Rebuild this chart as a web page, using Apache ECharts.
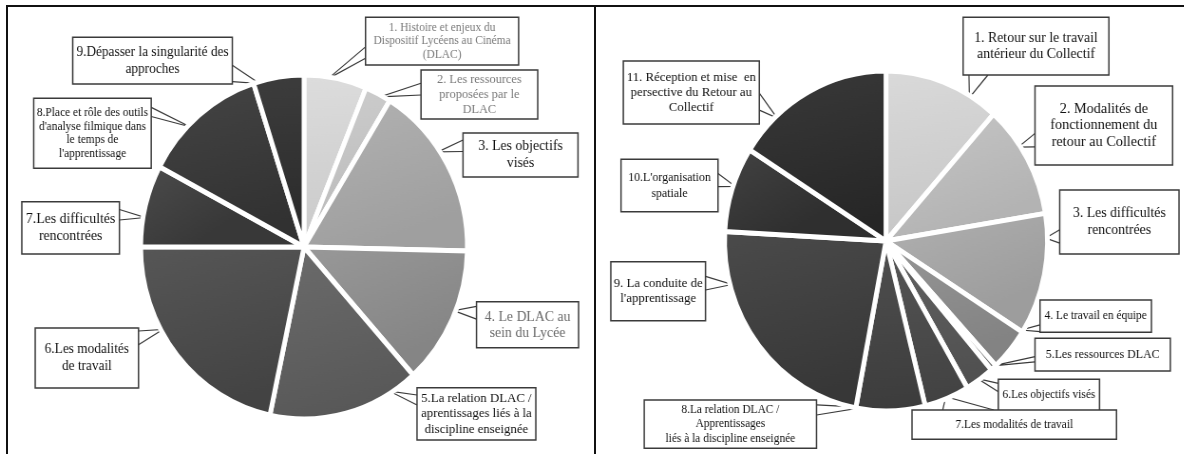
<!DOCTYPE html>
<html><head><meta charset="utf-8">
<script src="https://cdn.jsdelivr.net/npm/echarts@6/dist/echarts.min.js"></script>
<style>
html,body{margin:0;padding:0;background:#fff;}
#wrap{position:relative;width:1184px;height:454px;overflow:hidden;background:#fff;}
#chart{position:absolute;left:0;top:0;height:454px;transform-origin:0 0;}
.ln{position:absolute;background:#111;}
</style></head><body>
<div id="wrap">
<div id="chart"></div>
<div class="ln" style="left:6px;top:5px;width:1178px;height:2px"></div>
<div class="ln" style="left:6px;top:5px;width:2px;height:449px"></div>
<div class="ln" style="left:594px;top:5px;width:2px;height:449px"></div>
</div>
<script>
// ---- data (left chart) ----
const leftCategories = [
  '1. Histoire et enjeux du\nDispositif Lycéens au Cinéma\n(DLAC)',
  '2. Les ressources\nproposées par le\nDLAC',
  '3. Les objectifs\nvisés',
  '4. Le DLAC au\nsein du Lycée',
  '5.La relation DLAC /\naprentissages liés à la\ndiscipline enseignée',
  '6.Les modalités\nde travail',
  '7.Les difficultés\nrencontrées',
  "8.Place et rôle des outils\nd'analyse filmique dans\nle temps de\nl'apprentissage",
  '9.Dépasser la singularité des\napproches'
];
const leftValues = [6.2, 2.6, 16.6, 13.0, 15.0, 21.7, 7.7, 12.3, 5.0];

// ---- data (right chart) ----
const rightCategories = [
  '1. Retour sur le travail\nantérieur du Collectif',
  '2. Modalités de\nfonctionnement du\nretour au Collectif',
  '3. Les difficultés\nrencontrées',
  '4. Le travail en équipe',
  '5.Les ressources DLAC',
  '6.Les objectifs visés',
  '7.Les modalités de travail',
  '8.La relation DLAC /\nApprentissages\nliés à la discipline enseignée',
  "9. La conduite de\nl'apprentissage",
  "10.L'organisation\nspatiale",
  '11. Réception et mise  en\npersective du Retour au\nCollectif'
];
const rightValues = [11.6, 10.8, 11.6, 4.1, 0.6, 2.9, 4.5, 6.9, 22.9, 8.1, 16.0];

// ---- styles ----
const leftColors = ['#d3d3d3', '#c3c3c3', '#a9a9a9', '#8f8f8f', '#626262', '#4d4d4d', '#424242', '#3b3b3b', '#333333'];
const rightColors = ['#d0d0d0', '#bdbdbd', '#a7a7a7', '#8d8d8d', '#777777', '#5a5a5a', '#4c4c4c', '#464646', '#414141', '#393939', '#303030'];

// horizontal compression of the whole picture
const SX = 0.95;

// callout boxes (page px): [x0, y0, x1, y1, fontSize, lineHeight, padTop, side, f1, f2, textColor, tailAngle]
const leftBoxes = [
  [365.5, 17.3, 518.6, 65, 12, 13.8, 4.1, 'left', 0.62, 0.86, '#7a7a7a', 8.5],
  [421, 70, 537.7, 119, 13, 14.7, 3.3, 'left', 0.27, 0.51, '#7a7a7a', 28],
  [463, 133, 578, 177, 14.5, 16.7, 5.3, 'left', 0.16, 0.42, '#111', 56],
  [476.5, 301.7, 578.6, 347.7, 14.5, 16, 7.6, 'left', 0.10, 0.38, '#6a6a6a', 112],
  [417, 387.7, 535.8, 440, 13.5, 15.3, 4, 'left', 0.14, 0.33, '#111', 148],
  [35.2, 328, 138.5, 388, 14, 16.7, 7.6, 'right', 0.05, 0.28, '#111', 241],
  [21.8, 201.7, 119.4, 254, 14.5, 16.7, 3.3, 'right', 0.15, 0.35, '#111', 280],
  [33.7, 98.3, 151.2, 168.3, 12, 13.7, 1.5, 'right', 0.13, 0.26, '#111', 315],
  [72.7, 37.3, 232.3, 84, 14, 16.7, 7.6, 'right', 0.6, 0.95, '#111', 344]
];
const rightBoxes = [
  [963.1, 17.3, 1108.9, 75, 14.5, 16.7, 4.3, 'bottom', 0.04, 0.17, '#111', 31.5],
  [1035, 86, 1172.6, 165, 15, 16.7, 7.3, 'left', 0.6, 0.77, '#111', 56],
  [1059.7, 190, 1179, 254, 14.5, 16.7, 16.6, 'left', 0.62, 0.83, '#111', 89],
  [1040, 300, 1151.4, 332.3, 12, 15, 1.8, 'left', 0.77, 0.98, '#111', 122],
  [1035, 338.3, 1170.3, 371, 12.5, 16, 8.7, 'left', 0.56, 0.72, '#111', 138],
  [998.3, 379.3, 1099.5, 410.7, 12, 14, 1.4, 'left', 0.13, 0.4, '#111', 145],
  [912, 410, 1116.5, 439.3, 12, 15, 9.2, 'top', 0.15, 0.4, '#111', 158],
  [644.2, 400, 816.5, 448.3, 12, 14.5, 1, 'right', 0.1, 0.31, '#111', 188],
  [610.8, 261.7, 705.5, 320.7, 13.5, 15, 12.5, 'right', 0.25, 0.48, '#111', 255],
  [621, 159.3, 718, 211.7, 12.5, 16, 6, 'right', 0.27, 0.52, '#111', 289],
  [623.3, 61, 759.3, 124, 13.5, 15, 9.8, 'right', 0.51, 0.78, '#111', 317]
];

const BORDER = 1.5;
const PADH = 3;

function sidePoint(b, f) {
  const x0 = b[0] / SX, x1 = b[2] / SX, y0 = b[1], y1 = b[3], side = b[7];
  if (side === 'left') return [x0, y0 + (y1 - y0) * f];
  if (side === 'right') return [x1, y0 + (y1 - y0) * f];
  if (side === 'top') return [x0 + (x1 - x0) * f, y0];
  return [x0 + (x1 - x0) * f, y1];
}

function shade(hex, d) {
  const v = parseInt(hex.slice(1, 3), 16);
  const c = Math.max(0, Math.min(255, v + d));
  const h = c.toString(16).padStart(2, '0');
  return '#' + h + h + h;
}

function makeSeries(cats, vals, colors, boxes, center, radius) {
  const cx = center[0] / SX, cy = center[1];
  return {
    type: 'pie',
    center: [cx, cy],
    radius: radius,
    startAngle: 90,
    clockwise: true,
    avoidLabelOverlap: false,
    animation: false,
    silent: true,
    itemStyle: { borderColor: '#fff', borderWidth: 5 },
    label: {
      show: true, position: 'outside', formatter: '{b}',
      fontFamily: 'Liberation Serif', backgroundColor: '#fff',
      borderColor: '#3a3a3a', borderWidth: BORDER, overflow: 'none', align: 'center'
    },
    labelLine: { show: true, length: 8, length2: 8, smooth: false,
      lineStyle: { color: '#3a3a3a', width: 1.2 } },
    labelLayout: function (p) {
      const b = boxes[p.dataIndex];
      const w = (b[2] - b[0]) / SX;
      const res = {
        x: (b[0] + b[2]) / 2 / SX, y: (b[1] + b[3]) / 2,
        align: 'center', verticalAlign: 'middle',
        width: w - 2 * PADH - BORDER
      };
      let tip = p.labelLinePoints && p.labelLinePoints[0];
      if (b[11] != null) {
        const a = b[11] * Math.PI / 180, r = radius - 2;
        tip = [cx + r * Math.sin(a), cy - r * Math.cos(a)];
      }
      if (tip) {
        res.labelLinePoints = [sidePoint(b, b[8]), tip, sidePoint(b, b[9])];
      }
      return res;
    },
    data: cats.map(function (n, i) {
      const b = boxes[i];
      const lines = n.split('\n').length;
      const h = b[3] - b[1] - BORDER;
      const padBottom = Math.max(0, h - b[6] - lines * b[5]);
      return {
        name: n, value: vals[i],
        itemStyle: { color: {
          type: 'linear', x: 0, y: 0, x2: 0.3, y2: 1,
          colorStops: [{ offset: 0, color: shade(colors[i], 10) }, { offset: 1, color: shade(colors[i], -10) }]
        } },
        label: {
          fontSize: b[4], lineHeight: b[5], color: b[10],
          padding: [b[6], PADH, padBottom, PADH],
          width: (b[2] - b[0]) / SX - 2 * PADH - BORDER
        }
      };
    })
  };
}

const el = document.getElementById('chart');
el.style.width = (1184 / SX) + 'px';
el.style.transform = 'scaleX(' + SX + ')';
const chart = echarts.init(el, null, { renderer: 'canvas' });
chart.setOption({
  backgroundColor: 'transparent',
  animation: false,
  series: [
    makeSeries(leftCategories, leftValues, leftColors, leftBoxes, [304, 247], 172),
    makeSeries(rightCategories, rightValues, rightColors, rightBoxes, [886, 241], 170)
  ]
});
</script>
</body></html>
